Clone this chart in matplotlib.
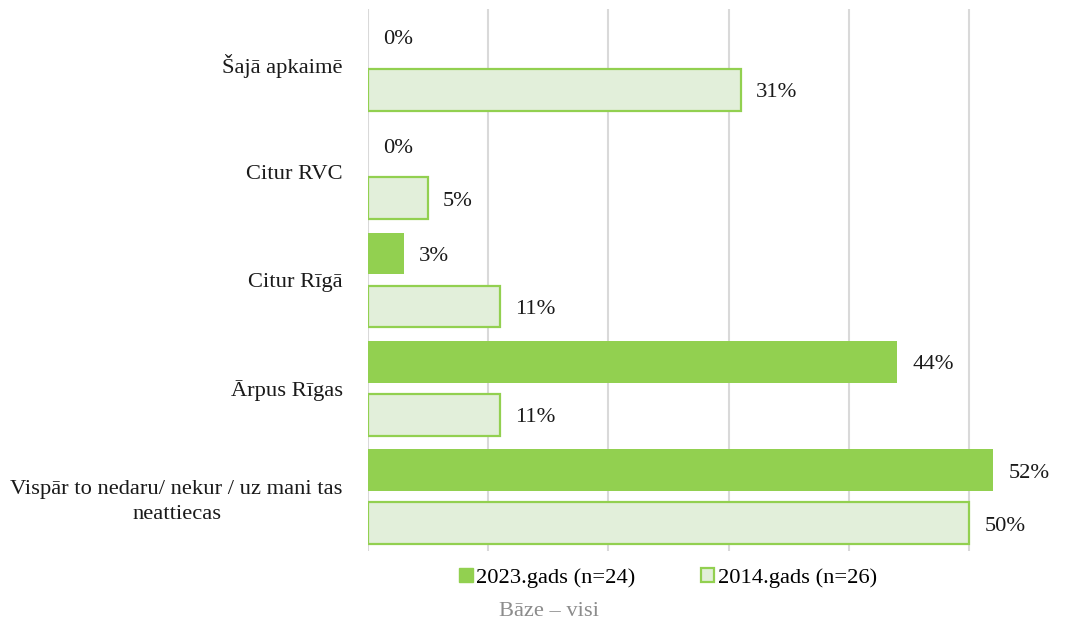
import matplotlib
matplotlib.use("Agg")
import matplotlib.pyplot as plt
from matplotlib.patches import Patch
import numpy as np

categories = ["Šajā apkaimē", "Citur RVC", "Citur Rīgā", "Ārpus Rīgas",
              "Vispār to nedaru/ nekur / uz mani tas\nneattiecas"]
values_2023 = [0.00, 0.00, 0.03, 0.44, 0.52]
values_2014 = [0.31, 0.05, 0.11, 0.11, 0.50]
series_labels = ["2023.gads (n=24)", "2014.gads (n=26)"]
base_note = "Bāze – visi"

GREEN = "#92D050"
LIGHT = "#E2EFDA"
GRID = "#D9D9D9"
FONT = "Liberation Serif"
FS = 16.2

plt.rcParams["font.family"] = [FONT, "DejaVu Serif"]

fig = plt.figure(figsize=(10.81, 6.28), dpi=100)
ax = fig.add_axes([368 / 1081, 77 / 628, 707 / 1081, 542 / 628])

y = np.arange(len(categories))
h = 0.386
off = 0.245

b23 = ax.barh(y - off, values_2023, height=h, color=GREEN, linewidth=0,
              zorder=3)
b14 = ax.barh(y + off, values_2014, height=h, color=LIGHT, edgecolor=GREEN,
              linewidth=1.6, zorder=3)

for bars, vals in ((b23, values_2023), (b14, values_2014)):
    for rect, v in zip(bars, vals):
        ax.annotate(f"{round(v * 100):.0f}%",
                    xy=(v, rect.get_y() + rect.get_height() / 2),
                    xytext=(15, -3), textcoords="offset pixels",
                    ha="left", va="center", fontsize=FS, color="#1a1a1a")

ax.set_xlim(0, 0.588)
ax.set_ylim(len(categories) - 0.5, -0.5)
ax.set_xticks(np.arange(0, 0.6, 0.1))
ax.xaxis.grid(True, color=GRID, linewidth=1.5, zorder=0)
ax.tick_params(axis="x", length=0, labelbottom=False)
ax.tick_params(axis="y", length=0, pad=18)
ax.set_yticks(y)
ax.set_yticklabels(categories, fontsize=FS, color="#1a1a1a",
                   multialignment="center", linespacing=1.4)
for s in ax.spines.values():
    s.set_visible(False)

handles = [Patch(facecolor=GREEN, edgecolor=GREEN),
           Patch(facecolor=LIGHT, edgecolor=GREEN, linewidth=1.6)]
fig.legend(handles, series_labels, loc="center", ncol=2,
           bbox_to_anchor=(668 / 1081, 1 - 578 / 628), frameon=False,
           fontsize=FS, handlelength=0.6, handleheight=0.6,
           handletextpad=0.15, columnspacing=2.9)

fig.text(549 / 1081, 1 - 612 / 628, base_note, ha="center", va="center",
         fontsize=FS, color="#8c8c8c")

fig.savefig("out.png", dpi=100)
